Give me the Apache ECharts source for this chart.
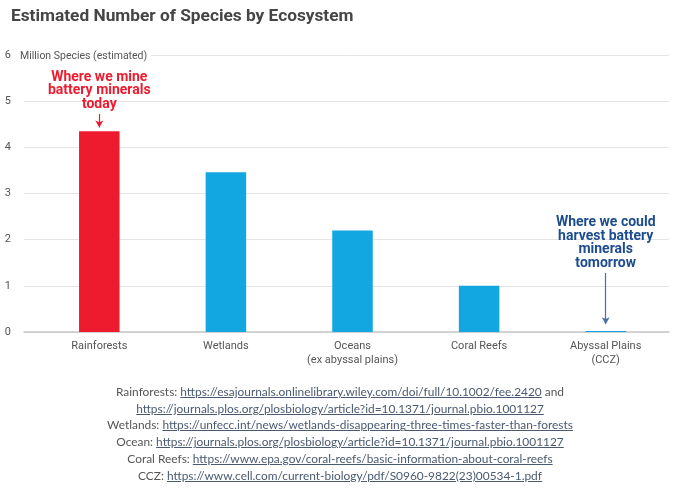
<!DOCTYPE html>
<html lang="en">
<head>
    <meta charset="UTF-8">
    <title>Estimated Number of Species by Ecosystem</title>
    <script src="https://cdn.jsdelivr.net/npm/echarts@6/dist/echarts.min.js"></script>
</head>
<style>
html,body{margin:0;padding:0;background-color:#fff;}
#chartBox{width:680px;height:492px;position:absolute;left:0;top:0;}
#sources{position:absolute;left:0;top:384px;width:680px;text-align:center;
    font-family:Lato,'Noto Sans',sans-serif;font-size:11.9px;line-height:16.7px;color:#555;}
#sources a{color:#4a5a70;text-decoration:underline;}
</style>
<body>
    <div id="chartBox"></div>
    <div id="sources"></div>
</body>
<script>
// chart data
const categories = ['Rainforests', 'Wetlands', 'Oceans\n(ex abyssal plains)', 'Coral Reefs', 'Abyssal Plains\n(CCZ)'];
const species = [4.35, 3.46, 2.2, 1.0, 0.02];
const yTicks = [0, 1, 2, 3, 4, 5, 6];
const highlightCategory = 'Rainforests';

// annotations: [category, arrow from, arrow to, text]
const mineNote = ['Rainforests', 4.72, 4.43, 'Where we mine\nbattery minerals\ntoday'];
const harvestNote = ['Abyssal Plains\n(CCZ)', 1.28, 0.17, 'Where we could\nharvest battery\nminerals\ntomorrow'];

const sources = [
    ['Rainforests', 'https://esajournals.onlinelibrary.wiley.com/doi/full/10.1002/fee.2420', ' and'],
    ['', 'https://journals.plos.org/plosbiology/article?id=10.1371/journal.pbio.1001127', ''],
    ['Wetlands', 'https://unfecc.int/news/wetlands-disappearing-three-times-faster-than-forests', ''],
    ['Ocean', 'https://journals.plos.org/plosbiology/article?id=10.1371/journal.pbio.1001127', ''],
    ['Coral Reefs', 'https://www.epa.gov/coral-reefs/basic-information-about-coral-reefs', ''],
    ['CCZ', 'https://www.cell.com/current-biology/pdf/S0960-9822(23)00534-1.pdf', '']
];

const RED = '#ee1b2f';
const BLUE = '#12a7e0';
const NAVY = '#1d4c8f';
const FONT = 'Roboto, "Noto Sans", sans-serif';

function noteLine(note, color, arrowColor){
    return {
        silent: true,
        symbol: ['none', 'arrow'],
        symbolSize: [6, 7],
        lineStyle: {color: arrowColor, width: 1.2, type: 'solid'},
        label: {
            show: true,
            position: 'start',
            distance: 3,
            formatter: note[3],
            color: color,
            fontFamily: FONT,
            fontWeight: 'bold',
            fontSize: 14,
            lineHeight: 13.5
        },
        data: [[{coord: [note[0], note[1]]}, {coord: [note[0], note[2]]}]]
    };
}

function generateChartOption(){
    return {
        animation: false,
        title: {
            text: 'Estimated Number of Species by Ecosystem',
            left: 6,
            top: 3,
            textStyle: {color: '#454545', fontFamily: FONT, fontWeight: 'bold', fontSize: 17.3}
        },
        grid: [
            {left: 24, right: 11, top: 55, bottom: 160},
            {left: 36, right: 11, top: 55, bottom: 160}
        ],
        xAxis: [
            {
                type: 'value', gridIndex: 0, min: 0, max: 1,
                axisLine: {show: true, lineStyle: {color: '#c8c8c8', width: 1.5}},
                axisTick: {show: false}, axisLabel: {show: false}, splitLine: {show: false}
            },
            {
                type: 'category', gridIndex: 1, data: categories,
                axisLine: {show: false}, axisTick: {show: false},
                axisLabel: {
                    interval: 0, margin: 7, color: '#555',
                    fontFamily: FONT, fontSize: 11, lineHeight: 14
                }
            }
        ],
        yAxis: [
            {
                type: 'value', gridIndex: 0, min: yTicks[0], max: yTicks[yTicks.length - 1], interval: 1,
                axisLine: {show: false}, axisTick: {show: false},
                axisLabel: {margin: 13, color: '#555', fontFamily: FONT, fontSize: 11},
                splitLine: {lineStyle: {color: '#e4e4e4', width: 1}}
            },
            {
                type: 'value', gridIndex: 1, min: yTicks[0], max: yTicks[yTicks.length - 1], interval: 1,
                show: false
            }
        ],
        graphic: [{
            type: 'text',
            left: 18,
            top: 49,
            z: 100,
            style: {
                text: 'Million Species (estimated)',
                fill: '#555',
                font: '10.5px ' + FONT,
                backgroundColor: '#fff',
                padding: [2, 4, 2, 2]
            }
        }],
        series: [{
            type: 'bar',
            xAxisIndex: 1,
            yAxisIndex: 1,
            barWidth: '32%',
            data: species.map((v, i) => ({
                value: v,
                itemStyle: {color: categories[i] === highlightCategory ? RED : BLUE}
            })),
            markLine: noteLine(mineNote, RED, RED)
        }, {
            type: 'bar',
            xAxisIndex: 1,
            yAxisIndex: 1,
            barGap: '-100%',
            barWidth: '32%',
            data: [],
            markLine: noteLine(harvestNote, NAVY, '#4a6fa5')
        }]
    };
}

// sources block
document.getElementById('sources').innerHTML = sources.map(s => {
    let head = s[0] ? s[0] + ': ' : '';
    return '<div>' + head + '<a>' + s[1] + '</a>' + s[2] + '</div>';
}).join('');

let chartObj = echarts.init(document.getElementById('chartBox'));
chartObj.setOption(generateChartOption());
</script>
</html>
